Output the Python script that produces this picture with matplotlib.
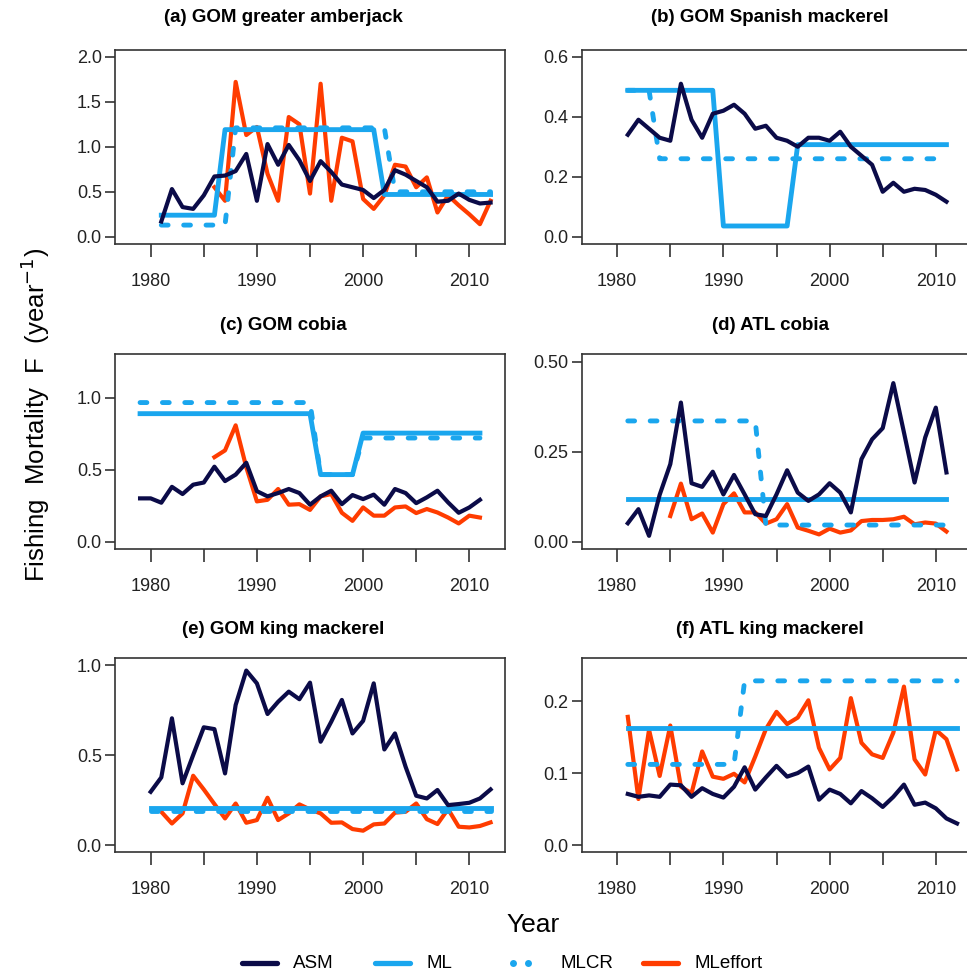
import numpy as np
import matplotlib
matplotlib.use("Agg")
import matplotlib.pyplot as plt
from matplotlib.lines import Line2D

plt.rcParams['font.family'] = ['Liberation Sans', 'DejaVu Sans']

col_asm = '#0b0b48'
col_ml = '#1aa6ee'
col_eff = '#ff3c00'

# (a) GOM greater amberjack
a_yr = np.arange(1981, 2013)
a_asm = [0.17, 0.53, 0.33, 0.31, 0.46, 0.67, 0.68, 0.73, 0.92, 0.40, 1.03, 0.80,
         1.02, 0.85, 0.62, 0.84, 0.72, 0.58, 0.55, 0.52, 0.43, 0.52, 0.74, 0.69,
         0.62, 0.55, 0.39, 0.40, 0.48, 0.41, 0.37, 0.38]
a_ml = [0.24] * 6 + [1.19] * 15 + [0.47] * 11
a_mlcr = [0.13] * 7 + [1.21] * 15 + [0.50] * 10
a_eff_yr = np.arange(1986, 2013)
a_eff = [0.55, 0.40, 1.72, 1.13, 1.22, 0.70, 0.40, 1.33, 1.25, 0.48, 1.70, 0.40,
         1.10, 1.06, 0.42, 0.31, 0.46, 0.80, 0.78, 0.55, 0.66, 0.27, 0.46, 0.35,
         0.25, 0.14, 0.40]

# (b) GOM Spanish mackerel
b_yr = np.arange(1981, 2012)
b_asm = [0.34, 0.39, 0.36, 0.33, 0.32, 0.51, 0.39, 0.33, 0.41, 0.42, 0.44, 0.41,
         0.36, 0.37, 0.33, 0.32, 0.30, 0.33, 0.33, 0.32, 0.35, 0.30, 0.27, 0.24,
         0.15, 0.18, 0.15, 0.16, 0.156, 0.14, 0.117]
b_ml = [0.488] * 9 + [0.036] * 7 + [0.307] * 15
b_mlcr = [0.488] * 3 + [0.26] * 28

# (c) GOM cobia
c_yr = np.arange(1979, 2012)
c_asm = [0.30, 0.30, 0.27, 0.38, 0.33, 0.395, 0.41, 0.52, 0.42, 0.465, 0.547,
         0.35, 0.314, 0.337, 0.365, 0.337, 0.256, 0.314, 0.353, 0.26, 0.323,
         0.295, 0.326, 0.256, 0.365, 0.337, 0.267, 0.307, 0.353, 0.272, 0.20,
         0.237, 0.29]
c_ml = [0.888] * 17 + [0.465] * 4 + [0.753] * 12
c_mlcr = [0.965] * 17 + [0.465] * 4 + [0.719] * 12
c_eff_yr = np.arange(1986, 2012)
c_eff = [0.586, 0.633, 0.807, 0.516, 0.279, 0.29, 0.365, 0.256, 0.26, 0.22,
         0.314, 0.33, 0.20, 0.144, 0.237, 0.18, 0.18, 0.237, 0.244, 0.198,
         0.226, 0.202, 0.167, 0.126, 0.18, 0.167]

# (d) ATL cobia
d_yr = np.arange(1981, 2012)
d_asm = [0.051, 0.09, 0.016, 0.13, 0.215, 0.386, 0.162, 0.152, 0.194, 0.131,
         0.185, 0.131, 0.076, 0.071, 0.131, 0.198, 0.136, 0.113, 0.131, 0.162,
         0.136, 0.081, 0.229, 0.284, 0.315, 0.44, 0.303, 0.164, 0.289, 0.372,
         0.192]
d_ml = [0.119] * 31
d_mlcr = [0.335] * 13 + [0.046] * 18
d_eff_yr = np.arange(1985, 2012)
d_eff = [0.071, 0.161, 0.062, 0.078, 0.025, 0.104, 0.134, 0.081, 0.081, 0.05,
         0.062, 0.104, 0.039, 0.03, 0.02, 0.036, 0.025, 0.031, 0.057, 0.06,
         0.06, 0.062, 0.069, 0.048, 0.053, 0.05, 0.028]

# (e) GOM king mackerel
e_yr = np.arange(1980, 2013)
e_asm = [0.296, 0.376, 0.704, 0.343, 0.50, 0.654, 0.644, 0.398, 0.778, 0.969,
         0.898, 0.728, 0.796, 0.852, 0.81, 0.902, 0.574, 0.685, 0.806, 0.62,
         0.69, 0.898, 0.531, 0.62, 0.435, 0.274, 0.259, 0.306, 0.222, 0.228,
         0.235, 0.259, 0.309]
e_ml = [0.204] * 33
e_mlcr = [0.187] * 33
e_eff_yr = np.arange(1981, 2013)
e_eff = [0.185, 0.12, 0.176, 0.385, 0.309, 0.228, 0.148, 0.231, 0.124, 0.139,
         0.263, 0.139, 0.176, 0.226, 0.198, 0.176, 0.124, 0.126, 0.089, 0.08,
         0.115, 0.12, 0.18, 0.185, 0.231, 0.144, 0.117, 0.20, 0.102, 0.098,
         0.106, 0.126]

# (f) ATL king mackerel
f_yr = np.arange(1981, 2013)
f_asm = [0.071, 0.067, 0.069, 0.067, 0.084, 0.083, 0.067, 0.079, 0.071, 0.066,
         0.081, 0.108, 0.077, 0.094, 0.11, 0.095, 0.10, 0.109, 0.063, 0.077,
         0.071, 0.058, 0.075, 0.065, 0.053, 0.067, 0.084, 0.056, 0.059, 0.051,
         0.037, 0.03]
f_ml = [0.162] * 32
f_mlcr = [0.112] * 11 + [0.228] * 21
f_eff = [0.178, 0.064, 0.16, 0.096, 0.166, 0.081, 0.072, 0.13, 0.095, 0.092,
         0.099, 0.087, 0.123, 0.161, 0.185, 0.168, 0.177, 0.201, 0.135, 0.105,
         0.121, 0.204, 0.142, 0.126, 0.121, 0.156, 0.22, 0.119, 0.098, 0.16,
         0.147, 0.105]

panels = [
    ('(a) GOM greater amberjack', a_yr, a_asm, a_ml, a_mlcr, a_eff_yr, a_eff,
     (0, 2.0), [0, 0.5, 1.0, 1.5, 2.0], '%.1f'),
    ('(b) GOM Spanish mackerel', b_yr, b_asm, b_ml, b_mlcr, None, None,
     (0, 0.6), [0, 0.2, 0.4, 0.6], '%.1f'),
    ('(c) GOM cobia', c_yr, c_asm, c_ml, c_mlcr, c_eff_yr, c_eff,
     (0, 1.25), [0, 0.5, 1.0], '%.1f'),
    ('(d) ATL cobia', d_yr, d_asm, d_ml, d_mlcr, d_eff_yr, d_eff,
     (0, 0.5), [0, 0.25, 0.5], '%.2f'),
    ('(e) GOM king mackerel', e_yr, e_asm, e_ml, e_mlcr, e_eff_yr, e_eff,
     (0, 1.0), [0, 0.5, 1.0], '%.1f'),
    ('(f) ATL king mackerel', f_yr, f_asm, f_ml, f_mlcr, f_yr, f_eff,
     (0, 0.25), [0, 0.1, 0.2], '%.1f'),
]

W, H = 967, 976
fig = plt.figure(figsize=(W / 100, H / 100), dpi=100)

col_left = [115, 581.5]
col_w = 390
row_top = [49.5, 354.3, 657.8]
row_h = 194.5
title_x = [283, 770]
title_y = [18, 325, 630]

dash = (0, (1.4, 3.2))

for i, (title, yr, asm, ml, mlcr, eyr, eff, ylim, yt, fmt) in enumerate(panels):
    r, c = divmod(i, 2)
    ax = fig.add_axes([col_left[c] / W, 1 - (row_top[r] + row_h) / H,
                       col_w / W, row_h / H])
    if eff is not None:
        ax.plot(eyr, eff, color=col_eff, lw=3.0, solid_joinstyle='round')
    ax.plot(yr, ml, color=col_ml, lw=3.5)
    ax.plot(yr, mlcr, color=col_ml, lw=3.5, linestyle=dash,
            dash_capstyle='round')
    ax.plot(yr, asm, color=col_asm, lw=3.0, solid_joinstyle='round')

    x0, x1 = 1978, 2012
    pad = 0.04 * (x1 - x0)
    ax.set_xlim(x0 - pad, x1 + pad)
    y0, y1 = ylim
    ypad = 0.04 * (y1 - y0)
    ax.set_ylim(y0 - ypad, y1 + ypad)

    ax.set_xticks(range(1980, 2011, 5))
    ax.set_xticklabels([str(y) if y % 10 == 0 else '' for y in range(1980, 2011, 5)])
    ax.set_yticks(yt)
    ax.set_yticklabels([fmt % v for v in yt])
    ax.tick_params(axis='x', length=9, width=1.1, pad=12, labelsize=13,
                   colors='#222222')
    ax.tick_params(axis='y', length=7.5, width=1.1, pad=2, labelsize=13,
                   colors='#222222')
    for s in ax.spines.values():
        s.set_linewidth(1.2)
        s.set_color('#333333')

    fig.text(title_x[c] / W, 1 - title_y[r] / H, title, ha='center',
             va='center', fontsize=13.5, fontweight='bold')

fig.text(35 / W, 1 - 415 / H, r'Fishing  Mortality  F  (year$^{-1}$)',
         rotation=90, ha='center', va='center', fontsize=18.5)
fig.text(533 / W, 1 - 925 / H, 'Year', ha='center', va='center', fontsize=19)

# legend, drawn by hand to match the evenly spaced R legend
leg_labels = ['ASM', 'ML', 'MLCR', 'MLeffort']
leg_colors = [col_asm, col_ml, col_ml, col_eff]
leg_x = [242, 375, 509, 643]
leg_y = 1 - 963 / H
for lx, lab, lc in zip(leg_x, leg_labels, leg_colors):
    if lab == 'MLCR':
        fig.add_artist(Line2D([(lx + 4) / W, (lx + 19) / W], [leg_y, leg_y],
                              transform=fig.transFigure, linestyle='none',
                              marker='o', markersize=5, color=lc, mec='none'))
    else:
        fig.add_artist(Line2D([lx / W, (lx + 35) / W], [leg_y, leg_y],
                              transform=fig.transFigure, color=lc, lw=3.8,
                              solid_capstyle='round'))
    fig.text((lx + 51) / W, leg_y, lab, ha='left', va='center', fontsize=13.5)

fig.savefig('out.png', dpi=100)
